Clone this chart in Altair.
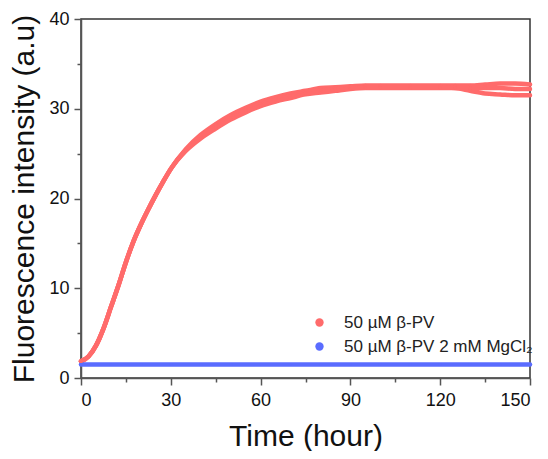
import altair as alt
import pandas as pd

# Time points (hour)
t_red = [0, 2.5, 5, 7.5, 10, 12.5, 15, 17.5, 20, 22.5, 25, 27.5, 30, 35, 40, 45, 50, 55,
         60, 65, 70, 75, 80, 85, 90, 95, 100, 110, 120, 125, 130, 135, 140, 145, 150]
# Three replicate traces of 50 uM beta-PV
rep1 = [1.85, 2.4, 3.6, 5.5, 7.9, 10.3, 12.9, 15.2, 17.1, 18.8, 20.4, 21.9, 23.3, 25.5, 27.1, 28.3, 29.3, 30.1,
        30.8, 31.3, 31.7, 32.0, 32.3, 32.4, 32.5, 32.6, 32.6, 32.6, 32.6, 32.6, 32.6, 32.7, 32.8, 32.8, 32.7]
rep2 = [1.85, 2.4, 3.6, 5.5, 7.9, 10.3, 12.9, 15.2, 17.1, 18.8, 20.4, 21.9, 23.3, 25.4, 26.9, 28.0, 29.0, 29.8,
        30.5, 31.0, 31.4, 31.8, 32.0, 32.2, 32.3, 32.4, 32.4, 32.4, 32.4, 32.3, 32.0, 31.7, 31.6, 31.5, 31.5]
rep3 = [1.85, 2.4, 3.6, 5.5, 7.9, 10.3, 12.9, 15.2, 17.1, 18.8, 20.4, 21.9, 23.3, 25.3, 26.7, 27.8, 28.8, 29.6,
        30.3, 30.8, 31.2, 31.6, 31.8, 32.0, 32.2, 32.3, 32.3, 32.3, 32.3, 32.3, 32.3, 32.3, 32.3, 32.2, 32.2]
# 50 uM beta-PV + 2 mM MgCl2
t_blue = [0, 10, 20, 30, 40, 50, 60, 70, 80, 90, 100, 110, 120, 130, 140, 150]
blue = [1.5, 1.5, 1.5, 1.5, 1.5, 1.5, 1.5, 1.5, 1.5, 1.5, 1.5, 1.5, 1.5, 1.5, 1.5, 1.5]

lab_red = "50 µM β-PV"
lab_blue = "50 µM β-PV 2 mM MgCl₂"
RED = "#ff6b6b"
BLUE = "#5a6cff"

rows = []
for rid, rep in (("r1", rep1), ("r2", rep2), ("r3", rep3)):
    for t, v in zip(t_red, rep):
        rows.append({"t": t, "v": v, "series": lab_red, "rep": rid})
for t, v in zip(t_blue, blue):
    rows.append({"t": t, "v": v, "series": lab_blue, "rep": "b"})
df = pd.DataFrame(rows)

color_scale = alt.Scale(domain=[lab_red, lab_blue], range=[RED, BLUE])
FONT = "Liberation Sans"

x_enc = alt.X("t:Q", scale=alt.Scale(domain=[0, 150], nice=False, zero=False),
              axis=alt.Axis(values=list(range(0, 151, 15)), title="Time (hour)",
                            labelExpr="datum.value % 30 == 0 ? datum.label : ''",
                            tickSize={"condition": {"test": "datum.value % 30 == 0", "value": 7}, "value": 4},
                            grid=False, labelFontSize=18, titleFontSize=30, titleFontWeight="normal",
                            labelPadding=6, titlePadding=12, domainColor="#555", tickColor="#555",
                            labelColor="#111", titleColor="#111", labelFont=FONT,
                            titleFont=FONT, domainWidth=1.5, tickWidth=1.5))
y_enc = alt.Y("v:Q", scale=alt.Scale(domain=[0, 40], nice=False),
              axis=alt.Axis(values=list(range(0, 41, 5)), title="Fluorescence intensity (a.u)",
                            labelExpr="datum.value % 10 == 0 ? datum.label : ''",
                            tickSize={"condition": {"test": "datum.value % 10 == 0", "value": 7}, "value": 4},
                            grid=False, labelFontSize=18, titleFontSize=30, titleFontWeight="normal",
                            labelPadding=5, titlePadding=9, domainColor="#555", tickColor="#555",
                            labelColor="#111", titleColor="#111", labelFont=FONT,
                            titleFont=FONT, domainWidth=1.5, tickWidth=1.5))

base = alt.Chart(df)
red_lines = base.transform_filter(alt.datum.series == lab_red).mark_line(
    strokeWidth=4.5, strokeCap="round", strokeJoin="round", interpolate="monotone", color=RED
).encode(x=x_enc, y=y_enc, detail="rep:N")
blue_line = base.transform_filter(alt.datum.series == lab_blue).mark_line(
    strokeWidth=4.5, strokeCap="round", interpolate="monotone", color=BLUE
).encode(x=x_enc, y=y_enc)
pts = base.mark_circle(size=10, opacity=1).encode(
    x=x_enc, y=y_enc,
    color=alt.Color("series:N", scale=color_scale,
                    legend=alt.Legend(title=None, orient="none", legendX=230, legendY=295,
                                      symbolType="circle", symbolSize=70)),
)

chart = alt.layer(red_lines, blue_line, pts).properties(
    width=449, height=359,
    autosize=alt.AutoSizeParams(type="none"),
    padding={"left": 73, "top": 11, "right": 10, "bottom": 73},
).configure_view(stroke="#333", strokeWidth=1.5).configure_legend(
    labelFontSize=17, labelFont=FONT, labelColor="#222", labelLimit=0,
    rowPadding=6, labelOffset=16, symbolStrokeWidth=0,
)

chart.save("out.html", embed_options={"renderer": "svg", "actions": False})
